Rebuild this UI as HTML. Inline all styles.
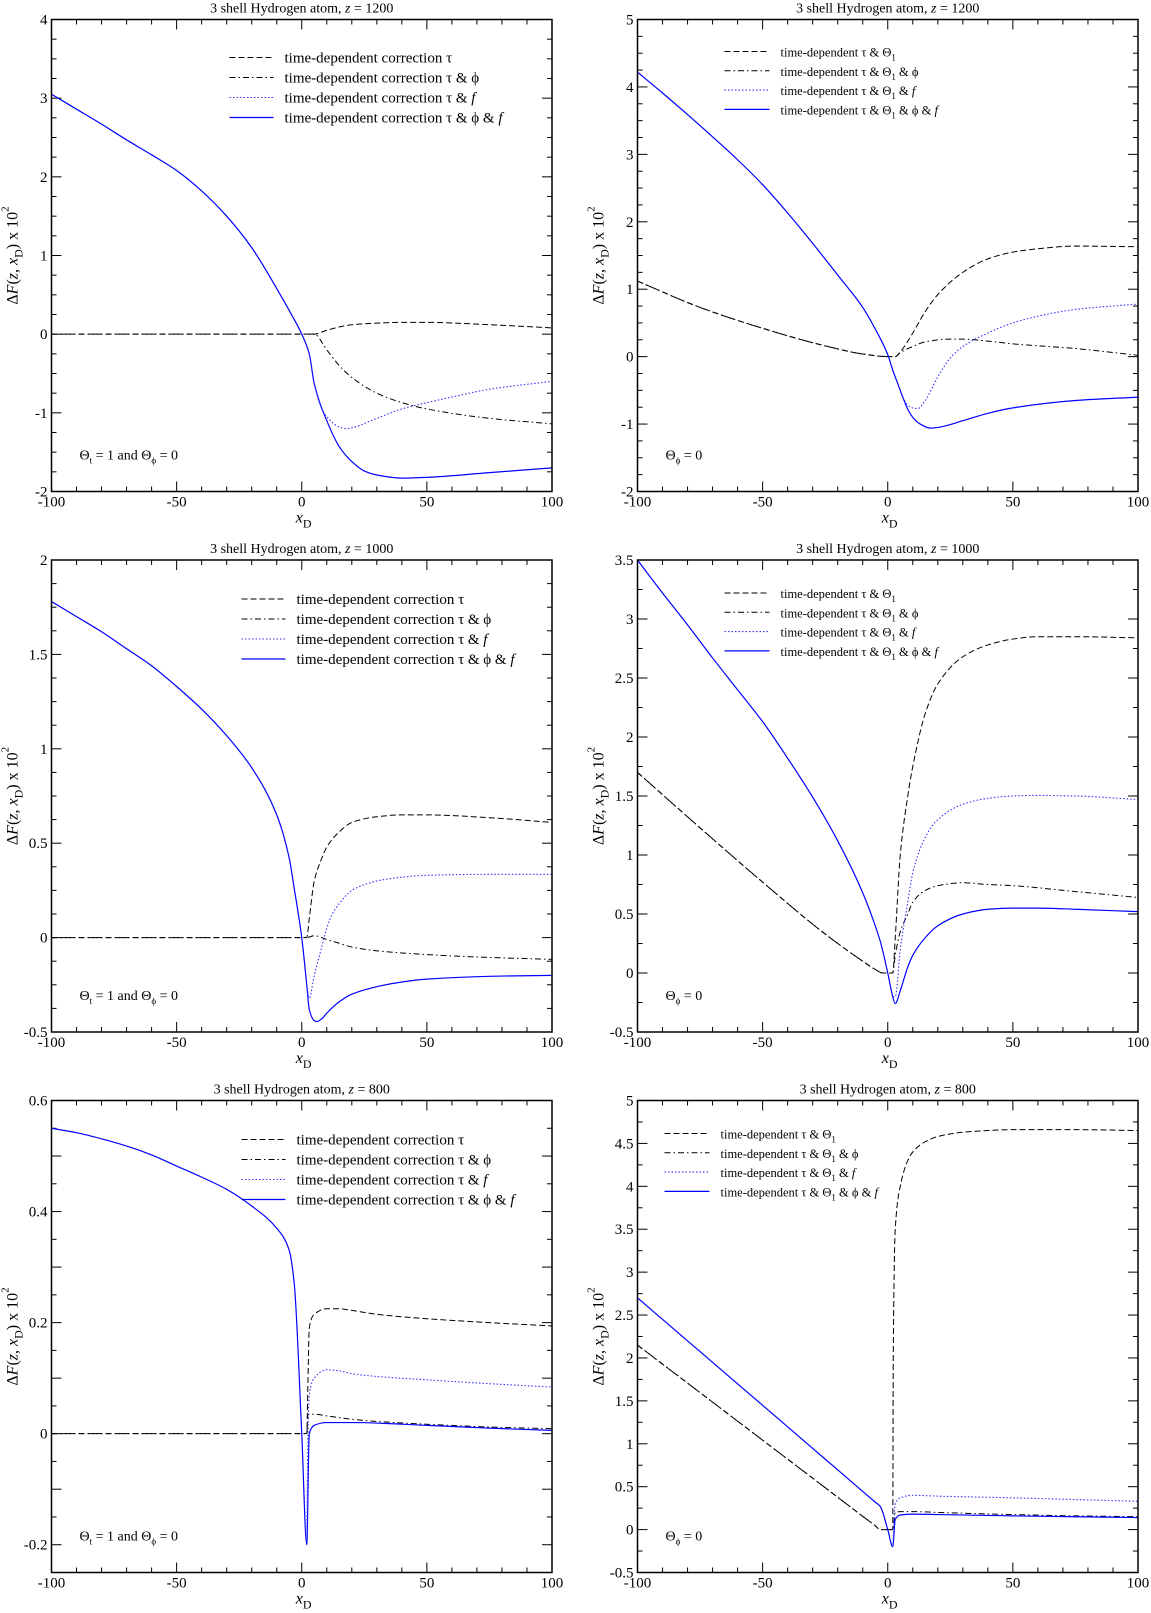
<!DOCTYPE html>
<html><head><meta charset="utf-8"><style>
html,body{margin:0;padding:0;background:#fff;}
svg{display:block;font-family:"Liberation Serif",serif;}
</style></head><body>
<svg id="fig" width="1151" height="1613" viewBox="0 0 1151 1613" xmlns="http://www.w3.org/2000/svg"></svg>
<script>
// ---------- Data ----------
// Panel 1: left, z=1200
const p1_full_x=[-100,-90,-80,-70,-60,-50,-40,-30,-20,-10,-5,0,3,5,10,15,20,25,30,40,50,75,100];
const p1_full_y=[3.05,2.86,2.67,2.47,2.28,2.08,1.82,1.50,1.10,0.58,0.30,0,-0.25,-0.63,-1.1,-1.43,-1.62,-1.74,-1.79,-1.83,-1.82,-1.76,-1.70];
const p1_dot_x=[3,5,8,10,15,18,20,30,40,50,60,75,100];
const p1_dot_y=[-0.25,-0.63,-0.95,-1.05,-1.18,-1.2,-1.19,-1.07,-0.95,-0.87,-0.8,-0.7,-0.6];
const p1_dash_x=[-100,5,10,20,30,40,50,75,100];
const p1_dash_y=[0,0,0.05,0.12,0.14,0.15,0.15,0.12,0.08];
const p1_dd_x=[-100,5,10,15,20,30,40,50,75,100];
const p1_dd_y=[0,0,-0.2,-0.4,-0.55,-0.75,-0.87,-0.95,-1.07,-1.14];
// Panel 2: right, z=1200
const p2_full_x=[-100,-90,-80,-70,-60,-50,-40,-30,-20,-10,-5,0,2,4,6,8,10,13,17,20,30,40,50,75,100];
const p2_full_y=[4.22,3.91,3.59,3.26,2.92,2.55,2.13,1.68,1.21,0.73,0.41,0.03,-0.2,-0.4,-0.6,-0.78,-0.9,-1.0,-1.06,-1.05,-0.95,-0.84,-0.76,-0.65,-0.6];
const p2_dot_x=[6,8,10,12,15,20,25,30,40,50,60,75,100];
const p2_dot_y=[-0.6,-0.72,-0.76,-0.77,-0.65,-0.3,-0.02,0.15,0.35,0.5,0.6,0.7,0.78];
const p2_dash_x=[-100,-75,-50,-25,-10,0,3,5,10,15,20,30,40,50,60,75,100];
const p2_dash_y=[1.12,0.73,0.42,0.16,0.04,0,0,0.07,0.35,0.67,0.92,1.25,1.45,1.55,1.6,1.64,1.63];
const p2_dd_x=[-100,-75,-50,-25,-10,0,3,5,10,15,25,30,40,50,75,100];
const p2_dd_y=[1.12,0.73,0.42,0.16,0.04,0,0,0.06,0.15,0.22,0.26,0.26,0.23,0.19,0.12,0.02];
// Panel 3: left, z=1000
const p3_full_x=[-100,-90,-80,-70,-60,-50,-40,-30,-20,-10,-5,-3,0,2,3,5,6,8,10,15,20,30,40,50,75,100];
const p3_full_y=[1.78,1.70,1.62,1.53,1.44,1.33,1.21,1.07,0.90,0.65,0.42,0.26,0,-0.25,-0.38,-0.44,-0.445,-0.43,-0.40,-0.34,-0.3,-0.26,-0.235,-0.22,-0.205,-0.2];
const p3_dot_x=[2,3,5,8,10,12,15,20,25,30,40,50,75,100];
const p3_dot_y=[-0.25,-0.32,-0.2,-0.05,0.05,0.12,0.18,0.25,0.28,0.3,0.32,0.33,0.335,0.335];
const p3_dash_x=[-100,2,3,5,8,10,15,20,30,40,50,75,100];
const p3_dash_y=[0,0,0.1,0.3,0.42,0.48,0.56,0.61,0.64,0.65,0.65,0.635,0.61];
const p3_dd_x=[-100,2,5,10,15,20,30,50,75,100];
const p3_dd_y=[0,0,0.01,-0.01,-0.03,-0.05,-0.07,-0.09,-0.105,-0.115];
// Panel 4: right, z=1000
const p4_full_x=[-100,-90,-80,-70,-60,-50,-40,-30,-20,-10,-5,-3,0,2,3,5,8,10,15,20,30,40,50,60,75,100];
const p4_full_y=[3.5,3.22,2.95,2.67,2.40,2.13,1.82,1.49,1.12,0.68,0.40,0.27,0.0,-0.2,-0.26,-0.15,0.05,0.15,0.3,0.4,0.5,0.54,0.55,0.55,0.54,0.52];
const p4_dot_x=[2,3,5,8,10,15,20,30,40,50,60,75,100];
const p4_dot_y=[-0.2,-0.2,0.2,0.6,0.85,1.15,1.3,1.43,1.48,1.5,1.505,1.5,1.47];
const p4_dash_x=[-100,-75,-50,-25,-10,-5,-2,2,3,5,8,10,15,20,30,40,50,60,75,100];
const p4_dash_y=[1.7,1.23,0.77,0.33,0.1,0.03,0,0,0.3,1.0,1.5,1.75,2.2,2.45,2.68,2.78,2.83,2.85,2.85,2.84];
const p4_dd_x=[-100,-75,-50,-25,-10,-5,-2,2,3,5,8,10,15,20,30,40,50,75,100];
const p4_dd_y=[1.7,1.23,0.77,0.33,0.1,0.03,0,0,0.15,0.35,0.5,0.6,0.7,0.74,0.765,0.75,0.74,0.69,0.64];
// Panel 5: left, z=800
const p5_full_x=[-100,-90,-80,-70,-60,-50,-40,-30,-20,-10,-5,-3,0,2,3,5,10,20,50,75,100];
const p5_full_y=[0.55,0.542,0.531,0.518,0.502,0.482,0.462,0.44,0.41,0.37,0.33,0.27,0.0,-0.2,0.0,0.015,0.02,0.02,0.015,0.01,0.006];
const p5_dot_x=[2,2.5,3,5,10,15,20,30,50,75,100];
const p5_dot_y=[-0.2,0.0,0.07,0.1,0.115,0.113,0.108,0.103,0.097,0.09,0.084];
const p5_dash_x=[-100,2,2.5,3,5,10,15,20,30,50,75,100];
const p5_dash_y=[0,0,0.1,0.19,0.215,0.225,0.225,0.222,0.215,0.207,0.2,0.194];
const p5_dd_x=[-100,2,2.5,5,10,20,30,50,75,100];
const p5_dd_y=[0,0,0.035,0.035,0.032,0.026,0.022,0.017,0.012,0.009];
// Panel 6: right, z=800
const p6_full_x=[-100,-75,-50,-25,-10,-5,-3,0,2,3,5,10,20,50,75,100];
const p6_full_y=[2.7,2.074,1.448,0.821,0.445,0.32,0.27,0.0,-0.2,0.12,0.17,0.18,0.175,0.16,0.15,0.14];
const p6_dot_x=[2,3,5,10,20,50,75,100];
const p6_dot_y=[-0.2,0.3,0.37,0.4,0.39,0.37,0.35,0.33];
const p6_dash_x=[-100,-75,-50,-25,-10,-5,-3,2,2.2,3,5,8,10,15,20,30,50,75,100];
const p6_dash_y=[2.15,1.596,1.042,0.488,0.155,0.045,0,0,2.0,3.5,4.0,4.3,4.4,4.52,4.58,4.63,4.66,4.66,4.65];
const p6_dd_x=[-100,-75,-50,-25,-10,-5,-3,2,3,5,10,20,50,75,100];
const p6_dd_y=[2.15,1.596,1.042,0.488,0.155,0.045,0,0,0.2,0.21,0.21,0.2,0.175,0.16,0.15];

const xTickLabels=[-100,-50,0,50,100];
const titles=["z = 1200","z = 1200","z = 1000","z = 1000","z = 800","z = 800"];
const yTicks1=[-2,-1,0,1,2,3,4];
const yTicks2=[-2,-1,0,1,2,3,4,5];
const yTicks3=[-0.5,0,0.5,1,1.5,2];
const yTicks4=[-0.5,0,0.5,1,1.5,2,2.5,3,3.5];
const yTicks5=[-0.2,0,0.2,0.4,0.6];
const yTicks6=[-0.5,0,0.5,1,1.5,2,2.5,3,3.5,4,4.5,5];

// ---------- Drawing ----------
const NS="http://www.w3.org/2000/svg";
const svg=document.getElementById('fig');
function mk(tag,attrs,parent){const e=document.createElementNS(NS,tag);for(const k in attrs)e.setAttribute(k,attrs[k]);(parent||svg).appendChild(e);return e;}

function monoPath(X,Y){
  const n=X.length; if(n<2) return '';
  const d=[],m=new Array(n);
  for(let i=0;i<n-1;i++) d.push((Y[i+1]-Y[i])/(X[i+1]-X[i]));
  m[0]=d[0]; m[n-1]=d[n-2];
  for(let i=1;i<n-1;i++){ if(d[i-1]*d[i]<=0) m[i]=0; else { const w1=2*(X[i+1]-X[i])+(X[i]-X[i-1]), w2=(X[i+1]-X[i])+2*(X[i]-X[i-1]); m[i]=(w1+w2)/(w1/d[i-1]+w2/d[i]); } }
  let p='M'+X[0].toFixed(2)+','+Y[0].toFixed(2);
  for(let i=0;i<n-1;i++){ const h=(X[i+1]-X[i])/3;
    p+=' C'+(X[i]+h).toFixed(2)+','+(Y[i]+m[i]*h).toFixed(2)+' '+(X[i+1]-h).toFixed(2)+','+(Y[i+1]-m[i+1]*h).toFixed(2)+' '+X[i+1].toFixed(2)+','+Y[i+1].toFixed(2);}
  return p;
}

const COLS=[51.5,637.5], TOPS=[19.5,560,1100.5], W=500.5, H=472;
const panels=[
 {c:0,r:0,ymin:-2,ymax:4,major:1,minor:0.25,ticks:yTicks1,left:true,data:[[p1_dash_x,p1_dash_y],[p1_dd_x,p1_dd_y],[p1_full_x,p1_full_y],[p1_dot_x,p1_dot_y]]},
 {c:1,r:0,ymin:-2,ymax:5,major:1,minor:0.25,ticks:yTicks2,left:false,data:[[p2_dash_x,p2_dash_y],[p2_dd_x,p2_dd_y],[p2_full_x,p2_full_y],[p2_dot_x,p2_dot_y]]},
 {c:0,r:1,ymin:-0.5,ymax:2,major:0.5,minor:0.125,ticks:yTicks3,left:true,data:[[p3_dash_x,p3_dash_y],[p3_dd_x,p3_dd_y],[p3_full_x,p3_full_y],[p3_dot_x,p3_dot_y]]},
 {c:1,r:1,ymin:-0.5,ymax:3.5,major:0.5,minor:0.25,ticks:yTicks4,left:false,data:[[p4_dash_x,p4_dash_y],[p4_dd_x,p4_dd_y],[p4_full_x,p4_full_y],[p4_dot_x,p4_dot_y]]},
 {c:0,r:2,ymin:-0.25,ymax:0.6,major:0.1,minor:0.05,ticks:yTicks5,left:true,data:[[p5_dash_x,p5_dash_y],[p5_dd_x,p5_dd_y],[p5_full_x,p5_full_y],[p5_dot_x,p5_dot_y]]},
 {c:1,r:2,ymin:-0.5,ymax:5,major:0.5,minor:0.25,ticks:yTicks6,left:false,data:[[p6_dash_x,p6_dash_y],[p6_dd_x,p6_dd_y],[p6_full_x,p6_full_y],[p6_dot_x,p6_dot_y]]}
];
const legendLeft=["time-dependent correction τ","time-dependent correction τ & ϕ","time-dependent correction τ & ","time-dependent correction τ & ϕ & "];
const styles=[
 {stroke:'#000',w:1,dash:'6,3'},
 {stroke:'#000',w:1,dash:'6,3,1.5,3'},
 {stroke:'#0000ff',w:1.2,dash:''},
 {stroke:'#3333ff',w:1.1,dash:'1.5,2'}
];
const seriesNames=['series-tau','series-tau-phi','series-tau-phi-f','series-tau-f'];
const legendOrder=[0,1,3,2];

panels.forEach((P,pi)=>{
  const x0=COLS[P.c], y0=TOPS[P.r], x1=x0+W, y1=y0+H;
  const sx=v=>x0+(v+100)/200*W;
  const sy=v=>y1-(v-P.ymin)/(P.ymax-P.ymin)*H;
  const g=mk('g',{});
  
  
  const t=mk('text',{x:(x0+x1)/2,y:y0-7,'text-anchor':'middle','font-size':'14'},g);
  
  
  t.appendChild(document.createTextNode('3 shell Hydrogen atom, '));
  const zt=mk('tspan',{'font-style':'italic'},t); zt.textContent='z';
  t.appendChild(document.createTextNode(titles[pi].slice(1)));
  const cp=mk('clipPath',{id:'clip'+pi},g); mk('rect',{x:x0,y:y0,width:W,height:H},cp);
  const tk=mk('g',{stroke:'#000','stroke-width':1},g);
  
  
  for(let v=-100;v<=100;v+=10){const L=(v%50===0)?10:5;const X=sx(v);
    mk('line',{x1:X,y1:y1,x2:X,y2:y1-L},tk); mk('line',{x1:X,y1:y0,x2:X,y2:y0+L},tk);}
  const nMin=Math.round((P.ymax-P.ymin)/P.minor);
  for(let i=0;i<=nMin;i++){const v=P.ymin+i*P.minor;const isMaj=Math.abs(v/P.major-Math.round(v/P.major))<1e-6;const L=isMaj?10:5;const Y=sy(v);
    mk('line',{x1:x0,y1:Y,x2:x0+L,y2:Y},tk); mk('line',{x1:x1,y1:Y,x2:x1-L,y2:Y},tk);}
  xTickLabels.forEach(v=>{const e=mk('text',{x:sx(v),y:y1+15,'text-anchor':'middle','font-size':'15'},g);
    
    
    e.textContent=String(v);});
  P.ticks.forEach(v=>{const e=mk('text',{x:x0-4,y:sy(v)+5,'text-anchor':'end','font-size':'15'},g);
    
    
    e.textContent=String(v);});
  const xt=mk('text',{x:(x0+x1)/2-6,y:y1+31,'font-size':'16'},g);
  
  
  const xi=mk('tspan',{'font-style':'italic'},xt); xi.textContent='x';
  const xs=mk('tspan',{'font-size':'12',dy:'5'},xt); xs.textContent='D';
  const cy=(y0+y1)/2, cx=x0-34;
  const yt=mk('text',{x:0,y:0,'font-size':'16','text-anchor':'middle',transform:'translate('+cx+','+cy+') rotate(-90)'},g);
  
  
  const parts=[['Δ',''],['F','i'],['(',''],['z','i'],[', ',''],['x','i'],['D','sub'],[') x 10',''],['2','sup']];
  parts.forEach(p=>{const s=mk('tspan',{},yt);s.textContent=p[0];
    if(p[1]==='i')s.setAttribute('font-style','italic');
    if(p[1]==='sub'){s.setAttribute('font-size','12');s.setAttribute('dy','5');}
    if(p[1]==='sup'){s.setAttribute('font-size','11');s.setAttribute('dy','-9');}
    if(p[0]===') x 10'){s.setAttribute('dy','-5');}
  });
  const sg=mk('g',{'clip-path':'url(#clip'+pi+')',fill:'none'},g);
  [0,1,2,3].forEach(k=>{const st=styles[k];const D=P.data[k];
    const X=D[0].map(sx), Y=D[1].map(sy);
    const p=mk('path',{d:monoPath(X,Y),stroke:st.stroke,'stroke-width':st.w,'stroke-dasharray':st.dash},sg);
    
    
  });
  const fr=mk('rect',{x:x0,y:y0,width:W,height:H,fill:'none',stroke:'#000','stroke-width':1.5},g);
  
  
  const lg=mk('g',{},g);
  
  
  let lx1,lx2,tx,ly,fs,step;
  if(P.left){ lx1=x0+(P.r===0?178:190); lx2=lx1+44; tx=lx1+55; ly=y0+(P.r===0?38:39); fs=15; step=20; }
  else { if(P.r===2){lx1=x0+27;}else{lx1=x0+87;} lx2=lx1+45; tx=lx1+56; ly=y0+(P.r===0?32:33); fs=12.5; step=19.3; }
  legendOrder.forEach((k,i)=>{const st=styles[k];const Y=ly+i*step;
    const ln=mk('line',{x1:lx1,y1:Y,x2:lx2,y2:Y,stroke:st.stroke,'stroke-width':st.w,'stroke-dasharray':st.dash},lg);
    
    
    const te=mk('text',{x:tx,y:Y+5,'font-size':fs},lg);
    
    
    if(P.left){
      te.appendChild(document.createTextNode(legendLeft[i]));
      if(i>=2){const f=mk('tspan',{'font-style':'italic'},te);f.textContent='f';}
    } else {
      te.appendChild(document.createTextNode('time-dependent τ & Θ'));
      const sb=mk('tspan',{'font-size':'9',dy:'4'},te);sb.textContent='1';
      const rest=mk('tspan',{dy:'-4'},te);
      rest.textContent=(i===0?'':(i===1?' & ϕ':(i===2?' & ':' & ϕ & ')));
      if(i>=2){const f=mk('tspan',{'font-style':'italic'},te);f.textContent='f';}
    }
  });
  const an=mk('text',{x:x0+28,y:y1-32,'font-size':'14'},g);
  
  
  if(P.left){
    an.appendChild(document.createTextNode('Θ'));
    const a=mk('tspan',{'font-size':'9',dy:'4'},an);a.textContent='t';
    const b=mk('tspan',{dy:'-4'},an);b.textContent=' = 1 and Θ';
    const c=mk('tspan',{'font-size':'9',dy:'4'},an);c.textContent='ϕ';
    const d=mk('tspan',{dy:'-4'},an);d.textContent=' = 0';
  } else {
    an.appendChild(document.createTextNode('Θ'));
    const c=mk('tspan',{'font-size':'9',dy:'4'},an);c.textContent='ϕ';
    const d=mk('tspan',{dy:'-4'},an);d.textContent=' = 0';
  }
});
</script>
</body></html>
